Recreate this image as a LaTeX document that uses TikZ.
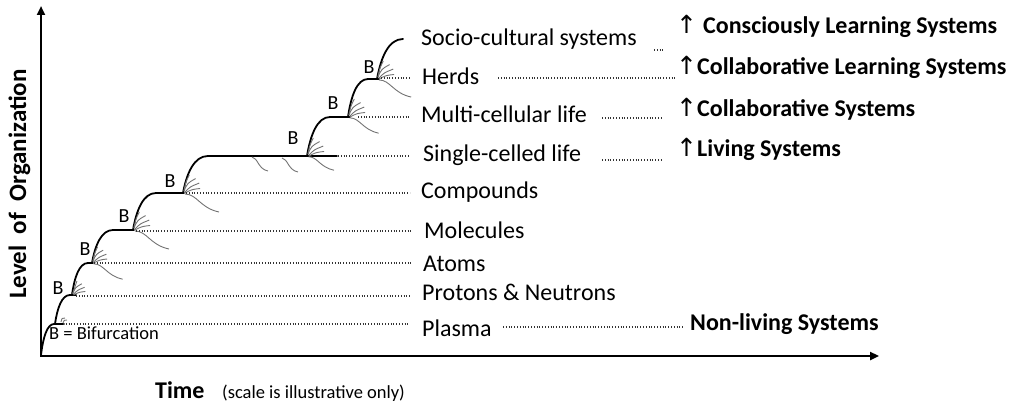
\documentclass[tikz,border=0pt]{standalone}
\usepackage{fontspec}
\setmainfont{Carlito}
\newfontfamily\symfont{DejaVu Sans}
\usetikzlibrary{arrows.meta}
\begin{document}
\begin{tikzpicture}[x=1pt,y=-1pt,
  axis/.style={line width=2.6pt, line join=miter, {Triangle[length=9pt,width=8pt]}-{Triangle[length=9pt,width=8pt]}},
  main/.style={line width=1.8pt, line cap=round, line join=round},
  twig/.style={draw=black!55, line width=0.9pt},
  dotline/.style={draw=black!80, line width=1.1pt, dash pattern=on 1pt off 1.8pt},
  lab/.style={font=\fontsize{24}{28}\selectfont, anchor=base west, inner sep=0pt},
  blab/.style={font=\fontsize{24}{28}\selectfont\bfseries, anchor=base west, inner sep=0pt},
  blet/.style={font=\fontsize{20}{24}\selectfont, inner sep=0pt},
  uparr/.style={font=\symfont\fontsize{25}{28}\selectfont, anchor=base west, inner sep=0pt},
  fan/.pic={
    \draw[twig] (1,-2) .. controls (3,-12) .. (7,-20);
    \draw[twig] (1,-2) .. controls (5,-11) .. (14,-16);
    \draw[twig] (2,-1) .. controls (8,-7) .. (18,-11);
    \draw[twig] (2,0) .. controls (10,-4) .. (19,-5);
  },
  tail/.pic={
    \draw[twig] (2,1) .. controls (14,1) and (17,15) .. (36,19);
  },
  droop/.pic={
    \draw[twig] (0,0) .. controls (6,1) and (6,12) .. (16,14);
  }
]
\useasboundingbox (0,0) rectangle (1016,406);

% axes
\coordinate (Ytop) at (41,6);
\coordinate (O) at (41,356);
\coordinate (Xend) at (879,356);
\draw[axis] (Ytop) -- (O) -- (Xend);

% branch points
\coordinate (s0) at (41,355);
\coordinate (b1) at (55,324);
\coordinate (b2) at (72,295);
\coordinate (b3) at (92,263);
\coordinate (b4) at (133,230);
\coordinate (b5) at (183,193);
\coordinate (b6) at (307,156);
\coordinate (b7) at (348,117);
\coordinate (b8) at (377,79);
\coordinate (top) at (403,39);

% main staircase curve
\draw[main] (s0) .. controls (43,338) and (47,324) .. (54,324) -- (64,324);
\draw[main] (b1) .. controls (57.3,308) and (61.8,295) .. (70,295) -- (76,295);
\draw[main] (b2) .. controls (74.4,277.4) and (79.2,263) .. (88,263) -- (93,263);
\draw[main] (b3) .. controls (95.2,244.9) and (101.5,230) .. (113,230) -- (134,230);
\draw[main] (b4) .. controls (136.5,209.7) and (143.4,193) .. (156,193) -- (184,193);
\draw[main] (b5) .. controls (186.8,172.7) and (194.3,156) .. (208,156) -- (337,156);
\draw[main] (b6) .. controls (310.5,134.6) and (317.4,117) .. (330,117) -- (350,117);
\draw[main] (b7) .. controls (351,96.1) and (357,79) .. (368,79) -- (379,79);
\draw[main] (b8) .. controls (381,57) and (388.7,39) .. (top);

% twigs
\draw[twig] (61,322) .. controls (62,318) .. (65,318);
\draw[twig] (63,323) .. controls (64,320) .. (67,320);
\pic[scale=0.7] at (b2) {fan};
\pic[scale=0.8] at (b3) {fan};
\pic[scale=0.85] at (b3) {tail};
\pic[scale=0.9] at (b4) {fan};
\pic at (b4) {tail};
\pic[scale=0.9] at (b5) {fan};
\pic at (b5) {tail};
\pic[scale=0.9] at (b6) {fan};
\pic[scale=0.75] at (b6) {tail};
\pic at (252,157) {droop};
\pic at (282,158) {droop};
\pic[scale=0.9] at (b7) {fan};
\pic[scale=0.85] at (b7) {tail};
\pic[scale=0.9] at (b8) {fan};
\pic[scale=0.95] at (b8) {tail};

% B labels
\node[blet] (B2) at (58,288) {B};
\node[blet] (B3) at (85,249) {B};
\node[blet] (B4) at (124,216) {B};
\node[blet] (B5) at (170,181) {B};
\node[blet] (B6) at (293,138) {B};
\node[blet] (B7) at (333,103) {B};
\node[blet] (B8) at (369,67) {B};
\node[blet, font=\fontsize{18.5}{22}\selectfont, anchor=base west] (Bdef) at (49,339) {B = Bifurcation};

% level labels
\node[lab] (soc) at (421,46) {Socio-cultural systems};
\node[lab] (herds) at (422,85) {Herds};
\node[lab] (multi) at (421,123) {Multi-cellular life};
\node[lab] (single) at (423,161) {Single-celled life};
\node[lab] (comp) at (421,198) {Compounds};
\node[lab] (mol) at (424,238) {Molecules};
\node[lab] (atoms) at (423,271) {Atoms};
\node[lab] (prot) at (422,300) {Protons \& Neutrons};
\node[lab] (plasma) at (422,336) {Plasma};

% system labels
\node[uparr] (a1) at (676,34) {↑};
\node[blab] (cls) at (703,34) {Consciously Learning Systems};
\node[uparr] (a2) at (676,75) {↑};
\node[blab] (colls) at (697,75) {Collaborative Learning Systems};
\node[uparr] (a3) at (676,117) {↑};
\node[blab] (cols) at (697,117) {Collaborative Systems};
\node[uparr] (a4) at (676,157) {↑};
\node[blab] (living) at (697,157) {Living Systems};
\node[blab] (nonliving) at (690,330) {Non-living Systems};

% dotted leaders
\coordinate (pl0) at (63,324);   \coordinate (pl1) at (410,324);
\coordinate (pl2) at (503,327);  \coordinate (pl3) at (683,327);
\coordinate (pr0) at (76,296);   \coordinate (pr1) at (410,296);
\coordinate (at0) at (94,263);   \coordinate (at1) at (412,263);
\coordinate (mo0) at (136,231);  \coordinate (mo1) at (412,231);
\coordinate (co0) at (186,193);  \coordinate (co1) at (410,193);
\coordinate (si0) at (338,156);  \coordinate (si1) at (410,156);
\coordinate (si2) at (602,160);  \coordinate (si3) at (663,160);
\coordinate (mu0) at (358,117);  \coordinate (mu1) at (410,117);
\coordinate (mu2) at (602,118);  \coordinate (mu3) at (663,118);
\coordinate (he0) at (381,78);   \coordinate (he1) at (410,78);
\coordinate (he2) at (498,78);   \coordinate (he3) at (676,78);
\coordinate (so2) at (654,50);   \coordinate (so3) at (663,50);
\draw[dotline] (pl0) -- (pl1);
\draw[dotline] (pl2) -- (pl3);
\draw[dotline] (pr0) -- (pr1);
\draw[dotline] (at0) -- (at1);
\draw[dotline] (mo0) -- (mo1);
\draw[dotline] (co0) -- (co1);
\draw[dotline] (si0) -- (si1);
\draw[dotline] (si2) -- (si3);
\draw[dotline] (mu0) -- (mu1);
\draw[dotline] (mu2) -- (mu3);
\draw[dotline] (he0) -- (he1);
\draw[dotline] (he2) -- (he3);
\draw[dotline] (so2) -- (so3);

% axis labels
\node[blab] (time) at (155,398) {Time};
\node[lab, font=\fontsize{18.5}{22}\selectfont] (scale) at (222,398) {(scale is illustrative only)};
\node[font=\fontsize{25}{28}\selectfont\bfseries, rotate=90, anchor=base, inner sep=0pt] (ylab) at (26,184) {Level\ \ of\ \ Organization};
\end{tikzpicture}
\end{document}
